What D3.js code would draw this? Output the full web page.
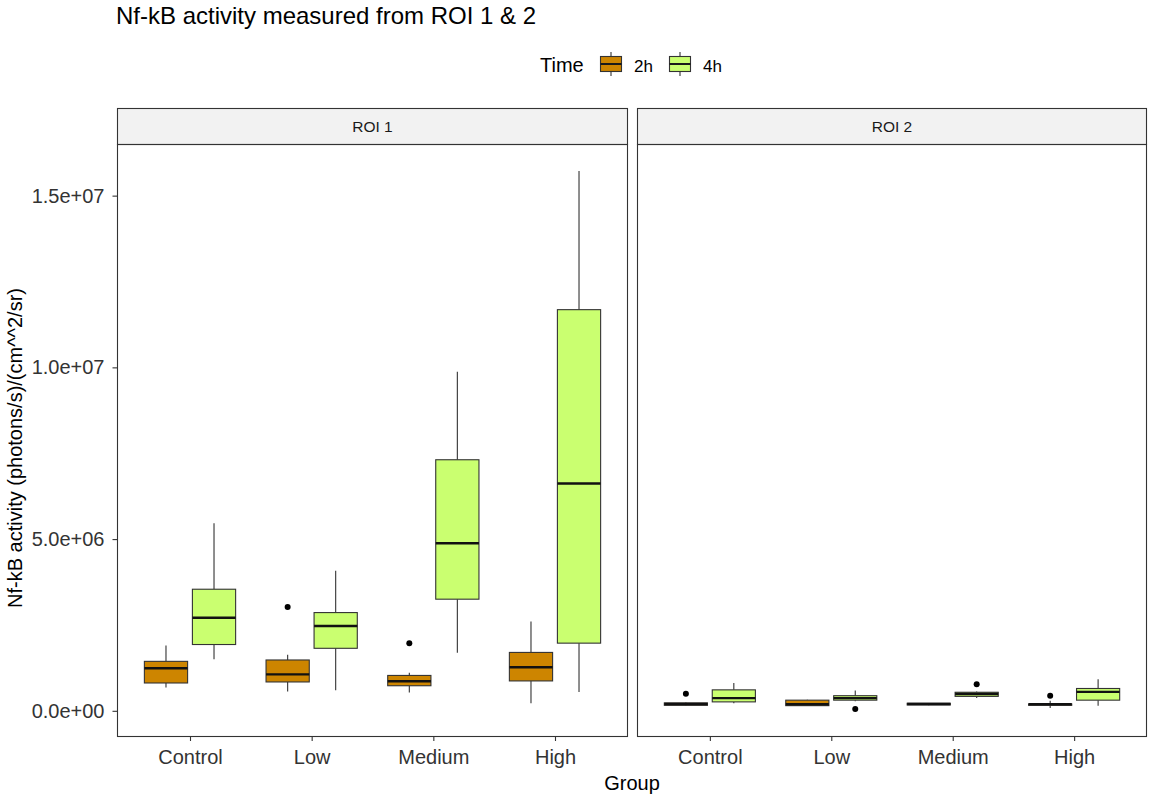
<!DOCTYPE html>
<html>
<head>
<meta charset="utf-8">
<script src="https://cdn.jsdelivr.net/npm/d3@7/dist/d3.min.js"></script>
<style>
  html, body { margin: 0; padding: 0; background: #fff; }
  svg { display: block; font-family: "Liberation Sans", Arial, sans-serif; }
</style>
</head>
<body>
<svg id="chart" width="1149" height="796"></svg>
<script>
// Groups along the x axis, time points (fill), and facet panels
const groups = ["Control", "Low", "Medium", "High"];
const times = ["2h", "4h"];
const panels = ["ROI 1", "ROI 2"];
const timeColors = ["#CD8500", "#CAFF70"];

// Box statistics per group: [lower whisker, Q1, median, Q3, upper whisker]
const roi1_2h = [
  [0.68e6, 0.81e6, 1.24e6, 1.44e6, 1.90e6],
  [0.56e6, 0.84e6, 1.06e6, 1.48e6, 1.63e6],
  [0.53e6, 0.73e6, 0.86e6, 1.03e6, 1.11e6],
  [0.22e6, 0.87e6, 1.27e6, 1.70e6, 2.60e6]
];
const roi1_4h = [
  [1.50e6, 1.93e6, 2.71e6, 3.54e6, 5.46e6],
  [0.60e6, 1.82e6, 2.47e6, 2.86e6, 4.08e6],
  [1.69e6, 3.25e6, 4.88e6, 7.31e6, 9.87e6],
  [0.55e6, 1.97e6, 6.62e6, 11.68e6, 15.72e6]
];
const roi2_2h = [
  [0.15e6, 0.16e6, 0.20e6, 0.23e6, 0.24e6],
  [0.15e6, 0.15e6, 0.19e6, 0.31e6, 0.32e6],
  [0.16e6, 0.17e6, 0.20e6, 0.22e6, 0.23e6],
  [0.08e6, 0.16e6, 0.19e6, 0.20e6, 0.29e6]
];
const roi2_4h = [
  [0.22e6, 0.26e6, 0.37e6, 0.61e6, 0.81e6],
  [0.28e6, 0.31e6, 0.37e6, 0.44e6, 0.59e6],
  [0.37e6, 0.42e6, 0.49e6, 0.54e6, 0.56e6],
  [0.15e6, 0.31e6, 0.55e6, 0.65e6, 0.92e6]
];

// Outlying observations: [group, value]
const roi1_2h_out = [["Low", 3.02e6], ["Medium", 1.97e6]];
const roi1_4h_out = [];
const roi2_2h_out = [["Control", 0.50e6], ["High", 0.44e6]];
const roi2_4h_out = [["Low", 0.05e6], ["Medium", 0.77e6]];

// Y axis ticks
const yTickValues = [0, 5e6, 1e7, 1.5e7];
const yTickLabels = ["0.0e+00", "5.0e+06", "1.0e+07", "1.5e+07"];

const stats = { "ROI 1": [roi1_2h, roi1_4h], "ROI 2": [roi2_2h, roi2_4h] };
const outliers = { "ROI 1": [roi1_2h_out, roi1_4h_out], "ROI 2": [roi2_2h_out, roi2_4h_out] };

const svg = d3.select("#chart");

// Layout
const panelTop = 144, panelBottom = 736, stripH = 36;
const panelX = [[117, 628], [637, 1147]];

// Shared y scale with 5% expansion around the data
const allVals = [];
panels.forEach(p => {
  stats[p].forEach(s => s.forEach(r => allVals.push(...r)));
  outliers[p].forEach(o => o.forEach(d => allVals.push(d[1])));
});
const yMin = d3.min(allVals), yMax = d3.max(allVals);
const pad = (yMax - yMin) * 0.05;
const y = d3.scaleLinear().domain([yMin - pad, yMax + pad]).range([panelBottom, panelTop]);

const textCol = "#333333";
const lineCol = "#333333";

// Title
svg.append("text").attr("x", 116).attr("y", 24)
  .attr("font-size", 24).attr("fill", "#000")
  .text("Nf-kB activity measured from ROI 1 & 2");

// Legend
const legend = svg.append("g");
const legY = 64;
legend.append("text").attr("x", 540).attr("y", 72).attr("font-size", 20).attr("fill", "#000").text("Time");
const keyX = [600, 669];
times.forEach((t, i) => {
  const kx = keyX[i];
  const g = legend.append("g");
  g.append("line").attr("x1", kx + 11).attr("x2", kx + 11).attr("y1", legY - 12).attr("y2", legY + 12)
    .attr("stroke", lineCol).attr("stroke-width", 1.1);
  g.append("rect").attr("x", kx + 0.5).attr("y", legY - 7.5).attr("width", 21).attr("height", 15)
    .attr("fill", timeColors[i]).attr("stroke", lineCol).attr("stroke-width", 1.1);
  g.append("line").attr("x1", kx + 0.5).attr("x2", kx + 21.5).attr("y1", legY).attr("y2", legY)
    .attr("stroke", "#1a1a1a").attr("stroke-width", 2);
  legend.append("text").attr("x", kx + 34).attr("y", 72).attr("font-size", 17).attr("fill", "#000").text(t);
});

panels.forEach((p, pi) => {
  const [x0, x1] = panelX[pi];
  const x = d3.scalePoint().domain(groups).range([x0, x1]).padding(0.6);
  const step = x.step();
  const dodge = d3.scaleBand().domain(times).range([-0.375 * step, 0.375 * step]).paddingInner(0.1);
  const bw = dodge.bandwidth();

  // Strip
  svg.append("rect").attr("x", x0 + 0.5).attr("y", panelTop - stripH + 0.5)
    .attr("width", x1 - x0 - 1).attr("height", stripH)
    .attr("fill", "#F2F2F2").attr("stroke", lineCol).attr("stroke-width", 1.1);
  svg.append("text").attr("x", (x0 + x1) / 2).attr("y", panelTop - stripH / 2 + 6)
    .attr("text-anchor", "middle").attr("font-size", 15.5).attr("fill", "#1A1A1A").text(p);

  const g = svg.append("g");

  times.forEach((t, ti) => {
    const data = stats[p][ti];
    data.forEach((s, gi) => {
      const cx = x(groups[gi]) + dodge(t) + bw / 2;
      const [lo, q1, med, q3, hi] = s;
      g.append("line").attr("x1", cx).attr("x2", cx).attr("y1", y(hi)).attr("y2", y(q3))
        .attr("stroke", lineCol).attr("stroke-width", 1.1);
      g.append("line").attr("x1", cx).attr("x2", cx).attr("y1", y(q1)).attr("y2", y(lo))
        .attr("stroke", lineCol).attr("stroke-width", 1.1);
      g.append("rect").attr("x", cx - bw / 2).attr("y", y(q3))
        .attr("width", bw).attr("height", Math.max(0, y(q1) - y(q3)))
        .attr("fill", timeColors[ti]).attr("stroke", lineCol).attr("stroke-width", 1.1);
      g.append("line").attr("x1", cx - bw / 2).attr("x2", cx + bw / 2).attr("y1", y(med)).attr("y2", y(med))
        .attr("stroke", "#111").attr("stroke-width", 2.4);
    });
    outliers[p][ti].forEach(([grp, v]) => {
      const cx = x(grp) + dodge(t) + bw / 2;
      g.append("circle").attr("cx", cx).attr("cy", y(v)).attr("r", 3).attr("fill", "#000");
    });
  });

  // Panel border
  svg.append("rect").attr("x", x0 + 0.5).attr("y", panelTop + 0.5)
    .attr("width", x1 - x0 - 1).attr("height", panelBottom - panelTop)
    .attr("fill", "none").attr("stroke", lineCol).attr("stroke-width", 1.1);

  // X axis
  const xa = svg.append("g").attr("transform", `translate(0,${panelBottom + 1})`)
    .call(d3.axisBottom(x).tickSize(4).tickPadding(8.5));
  xa.select(".domain").remove();
  xa.selectAll(".tick line").attr("stroke", lineCol).attr("stroke-width", 1.1);
  xa.selectAll(".tick text").attr("font-size", 20).attr("fill", textCol)
    .attr("font-family", "Liberation Sans, Arial, sans-serif");

  if (pi === 0) {
    const ya = svg.append("g").attr("transform", `translate(${x0},0)`)
      .call(d3.axisLeft(y).tickValues(yTickValues).tickFormat((d, i) => yTickLabels[i]).tickSize(4.5).tickPadding(8));
    ya.select(".domain").remove();
    ya.selectAll(".tick line").attr("stroke", lineCol).attr("stroke-width", 1.1);
    ya.selectAll(".tick text").attr("font-size", 20).attr("fill", textCol)
      .attr("font-family", "Liberation Sans, Arial, sans-serif");
  }
});

// Axis titles
svg.append("text").attr("x", (117 + 1147) / 2).attr("y", 790).attr("text-anchor", "middle")
  .attr("font-size", 20).attr("fill", "#000").text("Group");
svg.append("text").attr("transform", `translate(22,${(panelTop + panelBottom) / 2 + 8}) rotate(-90)`)
  .attr("text-anchor", "middle").attr("font-size", 20).attr("fill", "#000")
  .text("Nf-kB activity (photons/s)/(cm^^2/sr)");
</script>
</body>
</html>
